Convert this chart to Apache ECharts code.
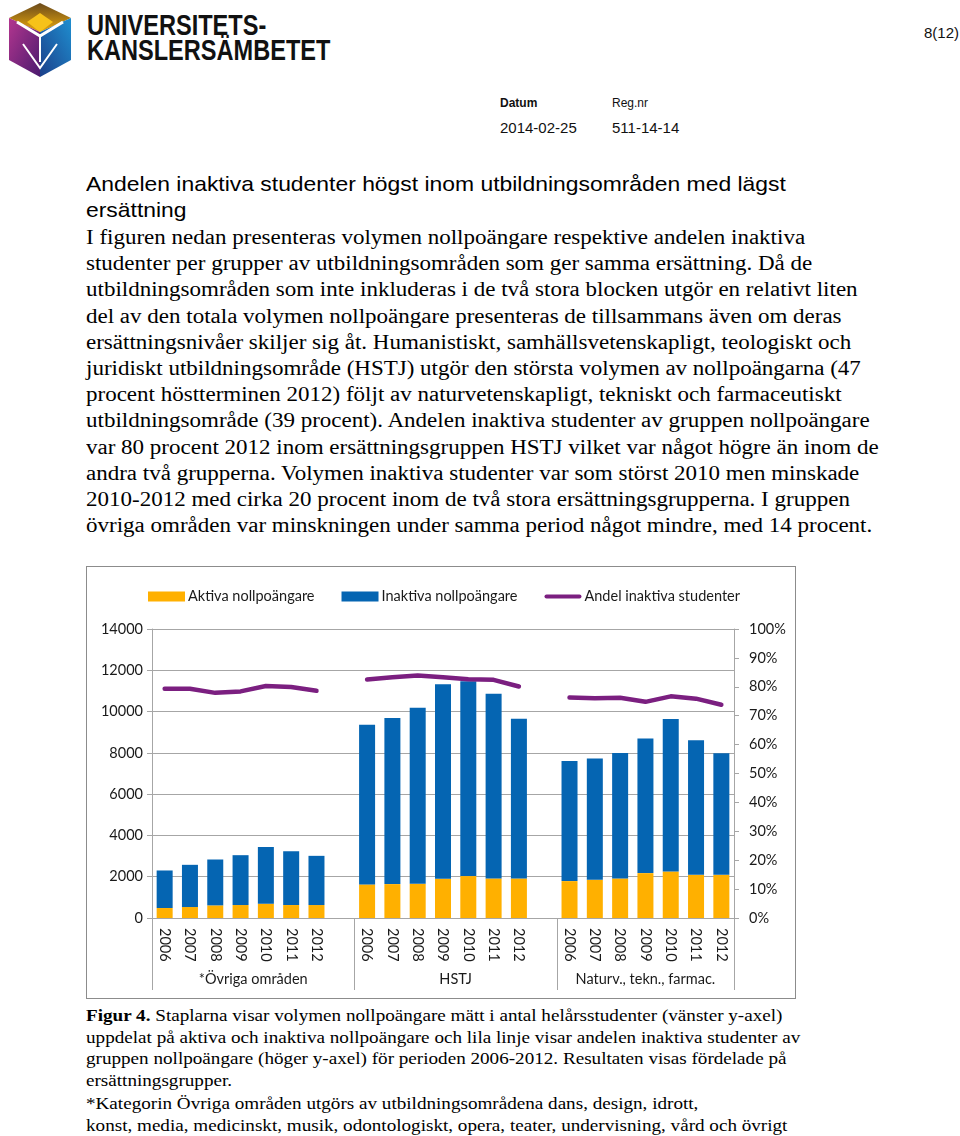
<!DOCTYPE html>
<html>
<head>
<meta charset="utf-8">
<script src="https://cdn.jsdelivr.net/npm/echarts@6/dist/echarts.min.js"></script>
<style>
  html, body { margin: 0; padding: 0; background: #fff; }
  body { width: 960px; height: 1136px; position: relative; overflow: hidden; }
  .abs { position: absolute; white-space: nowrap; transform-origin: 0 0; }
  .brand { font-family: "Liberation Sans", Arial, sans-serif; font-weight: bold; font-size: 30px; line-height: 26px; color: #111; transform: scaleX(0.785); }
  .small { font-family: "Liberation Sans", Arial, sans-serif; color: #111; }
  .head { font-family: "Liberation Sans", Arial, sans-serif; font-size: 21px; line-height: 26px; color: #000; transform: scaleX(1.09); }
  .body { font-family: "Liberation Serif", "Times New Roman", serif; font-size: 20px; line-height: 26.2px; color: #000; transform: scaleX(1.15); }
  .cap { font-family: "Liberation Serif", "Times New Roman", serif; font-size: 17px; line-height: 21.5px; color: #000; transform: scaleX(1.125); }
  #chart { position: absolute; left: 86px; top: 566px; width: 710px; height: 433px; box-sizing: border-box; border: 1px solid #8c8c8c; }
</style>
</head>
<body>
<svg class="abs" style="left:7px;top:2px" width="66" height="76" viewBox="0 0 66 76">
  <defs>
    <linearGradient id="gt" x1="0" y1="0" x2="0" y2="1">
      <stop offset="0" stop-color="#6b4a1c"/><stop offset="1" stop-color="#e8a80c"/>
    </linearGradient>
    <linearGradient id="gl" x1="0" y1="0" x2="1" y2="1">
      <stop offset="0" stop-color="#b3368f"/><stop offset="1" stop-color="#4b1a6e"/>
    </linearGradient>
    <linearGradient id="gr" x1="1" y1="0" x2="0" y2="1">
      <stop offset="0" stop-color="#1f8fd0"/><stop offset="1" stop-color="#1b3f8a"/>
    </linearGradient>
  </defs>
  <polygon points="33,1 64,16 33,30 2,16" fill="url(#gt)"/>
  <polygon points="2,16 33,30 33,75 2,58" fill="url(#gl)"/>
  <polygon points="64,16 64,58 33,75 33,30" fill="url(#gr)"/>
  <polygon points="20,20 33,11 46,20 33,30" fill="#f6c21a"/>
  <polyline points="10,20 33,34 56,20" fill="none" stroke="#fff" stroke-width="3"/>
  <polyline points="16,42 33,66 50,42" fill="none" stroke="#fff" stroke-width="2"/>
  <line x1="33" y1="34" x2="33" y2="60" stroke="#fff" stroke-width="2"/>
</svg>
<div class="abs brand" style="left:87px;top:12px">UNIVERSITETS-</div>
<div class="abs brand" style="left:87px;top:37px">KANSLERSÄMBETET</div>
<div class="abs small" style="left:924px;top:24px;font-size:15px">8(12)</div>
<div class="abs small" style="left:500px;top:96px;font-size:12px;font-weight:bold">Datum</div>
<div class="abs small" style="left:612px;top:96px;font-size:12px">Reg.nr</div>
<div class="abs small" style="left:500px;top:119px;font-size:15px">2014-02-25</div>
<div class="abs small" style="left:612px;top:119px;font-size:15px">511-14-14</div>

<div id="texts"></div>
<div id="chart"></div>

<script>
// ---------- chart data ----------
const years = ['2006', '2007', '2008', '2009', '2010', '2011', '2012'];
const groupNames = ['*Övriga områden', 'HSTJ', 'Naturv., tekn., farmac.'];

// Aktiva nollpoängare (helårsstudenter)
const aktivaOvriga = [483, 531, 612, 628, 692, 628, 628];
const aktivaHSTJ   = [1626, 1642, 1658, 1900, 2029, 1916, 1916];
const aktivaNaturv = [1787, 1852, 1916, 2174, 2254, 2093, 2093];

// Inaktiva nollpoängare (helårsstudenter)
const inaktivaOvriga = [1819, 2045, 2222, 2415, 2753, 2608, 2383];
const inaktivaHSTJ   = [7740, 8044, 8529, 9427, 9443, 8948, 7740];
const inaktivaNaturv = [5822, 5873, 6079, 6516, 7383, 6515, 5888];

// Andel inaktiva studenter (höger axel)
const andelOvriga = [0.793, 0.793, 0.779, 0.784, 0.803, 0.799, 0.786];
const andelHSTJ   = [0.825, 0.833, 0.839, 0.833, 0.826, 0.824, 0.801];
const andelNaturv = [0.763, 0.760, 0.762, 0.748, 0.767, 0.759, 0.738];

const leftTicks = { min: 0, max: 14000, interval: 2000 };
const rightTicks = { min: 0, max: 1, interval: 0.1 };

// ---------- page text ----------
const headLines = [
  'Andelen inaktiva studenter högst inom utbildningsområden med lägst',
  'ersättning'
];
const bodyLines = [
  'I figuren nedan presenteras volymen nollpoängare respektive andelen inaktiva',
  'studenter per grupper av utbildningsområden som ger samma ersättning. Då de',
  'utbildningsområden som inte inkluderas i de två stora blocken utgör en relativt liten',
  'del av den totala volymen nollpoängare presenteras de tillsammans även om deras',
  'ersättningsnivåer skiljer sig åt. Humanistiskt, samhällsvetenskapligt, teologiskt och',
  'juridiskt utbildningsområde (HSTJ) utgör den största volymen av nollpoängarna (47',
  'procent höstterminen 2012) följt av naturvetenskapligt, tekniskt och farmaceutiskt',
  'utbildningsområde (39 procent). Andelen inaktiva studenter av gruppen nollpoängare',
  'var 80 procent 2012 inom ersättningsgruppen HSTJ vilket var något högre än inom de',
  'andra två grupperna. Volymen inaktiva studenter var som störst 2010 men minskade',
  '2010-2012 med cirka 20 procent inom de två stora ersättningsgrupperna. I gruppen',
  'övriga områden var minskningen under samma period något mindre, med 14 procent.'
];
const capLines = [
  '<b>Figur 4.</b> Staplarna visar volymen nollpoängare mätt i antal helårsstudenter (vänster y-axel)',
  'uppdelat på aktiva och inaktiva nollpoängare och lila linje visar andelen inaktiva studenter av',
  'gruppen nollpoängare (höger y-axel) för perioden 2006-2012. Resultaten visas fördelade på',
  'ersättningsgrupper.',
  '*Kategorin Övriga områden utgörs av utbildningsområdena dans, design, idrott,',
  'konst, media, medicinskt, musik, odontologiskt, opera, teater, undervisning, vård och övrigt'
];
(function () {
  const host = document.getElementById('texts');
  function put(cls, lines, top0, step, extra) {
    lines.forEach(function (t, i) {
      const d = document.createElement('div');
      d.className = 'abs ' + cls;
      d.style.left = '86px';
      d.style.top = (top0 + i * step + (extra && i >= extra.from ? extra.add : 0)) + 'px';
      d.innerHTML = t;
      host.appendChild(d);
    });
  }
  put('head', headLines, 171, 26);
  put('body', bodyLines, 224, 26.2);
  put('cap', capLines, 1005, 21.5, { from: 4, add: 2 });
})();

// ---------- build chart ----------
const categories = [].concat(years, [''], years, [''], years);
const aktiva = [].concat(aktivaOvriga, [null], aktivaHSTJ, [null], aktivaNaturv);
const inaktiva = [].concat(inaktivaOvriga, [null], inaktivaHSTJ, [null], inaktivaNaturv);
const andel = [].concat(andelOvriga, [null], andelHSTJ, [null], andelNaturv);
const nCat = categories.length;
const groupBounds = [0, years.length + 1, 2 * (years.length + 1), nCat];
const groupCenters = [
  (groupBounds[0] + groupBounds[1]) / 2,
  (groupBounds[1] + groupBounds[2]) / 2,
  groupBounds[2] + years.length / 2
];

const gray = '#a6a6a6';
const txt = '#1a1a1a';
const purple = '#7b1f80';
const font = 'Lato, "Open Sans", sans-serif';

const chart = echarts.init(document.getElementById('chart'), null, { renderer: 'canvas' });
chart.setOption({
  animation: false,
  textStyle: { fontFamily: font, color: txt },
  legend: {
    top: 17, left: 56,
    itemWidth: 37, itemHeight: 10, itemGap: 27,
    textStyle: { fontSize: 14.5, color: txt, fontFamily: font, padding: [0, 0, 0, -2] },
    data: [
      { name: 'Aktiva nollpoängare', icon: 'rect' },
      { name: 'Inaktiva nollpoängare', icon: 'rect' },
      { name: 'Andel inaktiva studenter',
        icon: 'path://M2,0 L35,0 A2,2 0 0 1 35,4 L2,4 A2,2 0 0 1 2,0 Z',
        itemStyle: { color: purple, borderWidth: 0 } }
    ]
  },
  grid: { left: 65, right: 61, top: 62, bottom: 80, containLabel: false },
  xAxis: [
    {
      type: 'category',
      data: categories,
      axisLine: { lineStyle: { color: gray, width: 1 } },
      axisTick: { interval: 0, length: 42, lineStyle: { color: gray } },
      axisLabel: { interval: 0, rotate: -90, margin: 10, fontSize: 14.5, color: txt, fontFamily: font }
    },
    {
      type: 'value',
      position: 'bottom',
      min: 0, max: nCat,
      axisLine: { show: false },
      splitLine: { show: false },
      axisTick: { show: true, customValues: groupBounds, length: 72, lineStyle: { color: gray } },
      axisLabel: {
        customValues: groupCenters, margin: 54, fontSize: 14.5, color: txt, fontFamily: font,
        formatter: function (v) {
          const k = groupCenters.findIndex(function (c) { return Math.abs(c - v) < 1e-6; });
          return k >= 0 ? groupNames[k] : '';
        }
      }
    }
  ],
  yAxis: [
    {
      type: 'value', position: 'left',
      min: leftTicks.min, max: leftTicks.max, interval: leftTicks.interval,
      axisLine: { show: true, lineStyle: { color: gray } },
      axisTick: { show: true, length: 5, lineStyle: { color: gray } },
      axisLabel: { margin: 9, fontSize: 14.5, color: txt, fontFamily: font,
        formatter: function (v) { return String(v); } },
      splitLine: { show: true, lineStyle: { color: gray, width: 1 } }
    },
    {
      type: 'value', position: 'right',
      min: rightTicks.min, max: rightTicks.max, interval: rightTicks.interval,
      axisLine: { show: true, lineStyle: { color: gray } },
      axisTick: { show: true, length: 5, lineStyle: { color: gray } },
      axisLabel: { margin: 15, fontSize: 14.5, color: txt, fontFamily: font,
        formatter: function (v) { return Math.round(v * 100) + '%'; } },
      splitLine: { show: false }
    }
  ],
  series: [
    {
      name: 'Aktiva nollpoängare', type: 'bar', stack: 'np',
      xAxisIndex: 0, yAxisIndex: 0,
      data: aktiva, barWidth: 16,
      itemStyle: { color: '#ffb000' }
    },
    {
      name: 'Inaktiva nollpoängare', type: 'bar', stack: 'np',
      xAxisIndex: 0, yAxisIndex: 0,
      data: inaktiva, barWidth: 16,
      itemStyle: { color: '#0565b2' }
    },
    {
      name: 'Andel inaktiva studenter', type: 'line',
      xAxisIndex: 0, yAxisIndex: 1,
      data: andel, connectNulls: false,
      symbol: 'none', smooth: false,
      lineStyle: { color: purple, width: 4.5, cap: 'round', join: 'round' },
      itemStyle: { color: purple }
    }
  ]
});
</script>
</body>
</html>
